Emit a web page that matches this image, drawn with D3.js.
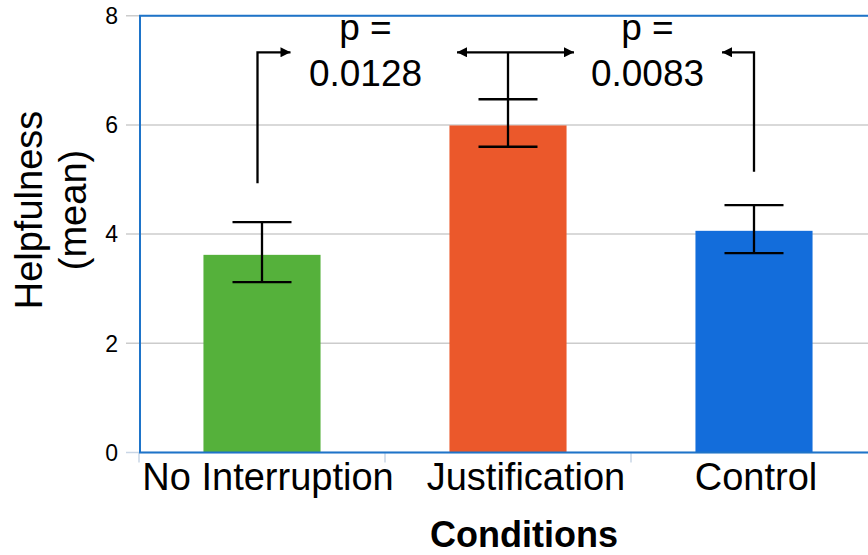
<!DOCTYPE html>
<html><head><meta charset="utf-8">
<script src="https://cdn.jsdelivr.net/npm/d3@7"></script>
<style>html,body{margin:0;padding:0;background:#fff;}svg{display:block;}</style>
</head><body>
<svg id="chart" width="868" height="555"></svg>
<script>
const categories = ["No Interruption", "Justification", "Control"];
const means = [3.62, 5.99, 4.06];
const errLow = [3.12, 5.60, 3.65];
const errHigh = [4.22, 6.47, 4.53];
const barColors = ["#55b13b", "#eb582b", "#136ddb"];
const yTicks = [0, 2, 4, 6, 8];
const pLabels = ["0.0128", "0.0083"];
const yTitle = ["Helpfulness", "(mean)"];
const xTitle = "Conditions";

(function () {
const FONT = "'Liberation Sans', Arial, Helvetica, sans-serif";
const svg = d3.select("#chart");
const W = 868;
const plotLeft = 139, plotTop = 15.7, plotBottom = 452.5;

const y = d3.scaleLinear().domain([0, 8]).range([plotBottom, plotTop]);
const x = d3.scaleBand().domain(categories).range([plotLeft, plotLeft + 246 * 3])
  .paddingInner(0.524).paddingOuter(0.262);
const step = x.step();

const defs = svg.append("defs");
defs.append("marker").attr("id", "ah").attr("viewBox", "0 0 10 10")
  .attr("refX", 10).attr("refY", 5).attr("markerWidth", 11).attr("markerHeight", 10)
  .attr("markerUnits", "userSpaceOnUse").attr("orient", "auto-start-reverse")
  .append("path").attr("d", "M0,0 L10,5 L0,10 z").attr("fill", "#000");

// gridlines
svg.append("g").selectAll("line").data(yTicks).join("line")
  .attr("x1", 126).attr("x2", W)
  .attr("y1", d => y(d)).attr("y2", d => y(d))
  .attr("stroke", d => d === 0 ? "#c9d6e6" : "#cccccc").attr("stroke-width", 1.5);

// y tick labels
svg.append("g").selectAll("text").data(yTicks).join("text")
  .attr("x", 118).attr("y", d => y(d)).attr("dy", "0.36em")
  .attr("text-anchor", "end").attr("font-family", FONT).attr("font-size", 23)
  .attr("fill", "#000").text(d => d);

// category tick marks
const bounds = categories.map(c => x(c) - step * x.paddingInner() / 2);
svg.append("g").selectAll("line").data(bounds).join("line")
  .attr("x1", d => d).attr("x2", d => d).attr("y1", plotBottom).attr("y2", plotBottom + 10)
  .attr("stroke", "#c9d6e6").attr("stroke-width", 1.5);

// bars
svg.append("g").selectAll("rect").data(categories).join("rect")
  .attr("x", c => x(c)).attr("width", x.bandwidth())
  .attr("y", (c, i) => y(means[i])).attr("height", (c, i) => y(0) - y(means[i]))
  .attr("fill", (c, i) => barColors[i]);

// blue frame
svg.append("path")
  .attr("d", `M${W + 5},${plotTop} L${plotLeft + 1},${plotTop} L${plotLeft + 1},${plotBottom} L${W + 5},${plotBottom}`)
  .attr("fill", "none").attr("stroke", "#1e74c9").attr("stroke-width", 2);

// error bars
const eb = svg.append("g").attr("stroke", "#000").attr("stroke-width", 2.3).attr("fill", "none");
const cx = c => x(c) + x.bandwidth() / 2;
categories.forEach((c, i) => {
  eb.append("line").attr("x1", cx(c)).attr("x2", cx(c)).attr("y1", y(errLow[i])).attr("y2", y(errHigh[i]));
  [errLow[i], errHigh[i]].forEach(v => {
    eb.append("line").attr("x1", cx(c) - 29.5).attr("x2", cx(c) + 29.5).attr("y1", y(v)).attr("y2", y(v));
  });
});

// significance annotations
const ann = svg.append("g").attr("stroke", "#000").attr("stroke-width", 2.3).attr("fill", "none");
const yTop = y(7.33);
const c0 = cx(categories[0]) - 4.5, c1 = cx(categories[1]), c2 = cx(categories[2]);
ann.append("path").attr("d", `M${c0},${y(4.93)} L${c0},${yTop} L${c0 + 33},${yTop}`)
  .attr("marker-end", "url(#ah)");
ann.append("line").attr("x1", c1).attr("x2", c1).attr("y1", y(errHigh[1])).attr("y2", yTop);
ann.append("line").attr("x1", c1 - 51).attr("x2", c1 + 66).attr("y1", yTop).attr("y2", yTop)
  .attr("marker-start", "url(#ah)").attr("marker-end", "url(#ah)");
ann.append("path").attr("d", `M${c2},${y(5.14)} L${c2},${yTop} L${c2 - 32},${yTop}`)
  .attr("marker-end", "url(#ah)");

// p-value text
const pX = [365.5, 647.5];
pLabels.forEach((p, i) => {
  const t = svg.append("text").attr("font-family", FONT).attr("font-size", 37)
    .attr("text-anchor", "middle").attr("fill", "#000");
  t.append("tspan").attr("x", pX[i]).attr("y", 40).text("p =");
  t.append("tspan").attr("x", pX[i]).attr("y", 86).text(p);
});

// x category labels
const labOff = [6, 18, 2];
svg.append("g").selectAll("text").data(categories).join("text")
  .attr("x", (c, i) => cx(c) + labOff[i]).attr("y", 489.5)
  .attr("text-anchor", "middle").attr("font-family", FONT).attr("font-size", 38)
  .attr("fill", "#000").text(c => c);

// x title
svg.append("text").attr("x", 524).attr("y", 546.5).attr("text-anchor", "middle")
  .attr("font-family", FONT).attr("font-size", 36).attr("font-weight", "bold")
  .attr("fill", "#000").text(xTitle);

// y title
const yt = svg.append("text").attr("transform", "translate(41.5,210) rotate(-90)")
  .attr("text-anchor", "middle").attr("font-family", FONT).attr("font-size", 38).attr("fill", "#000");
yt.append("tspan").attr("x", 0).attr("y", 0).text(yTitle[0]);
yt.append("tspan").attr("x", 0).attr("y", 44.5).text(yTitle[1]);
})();
</script>
</body></html>
